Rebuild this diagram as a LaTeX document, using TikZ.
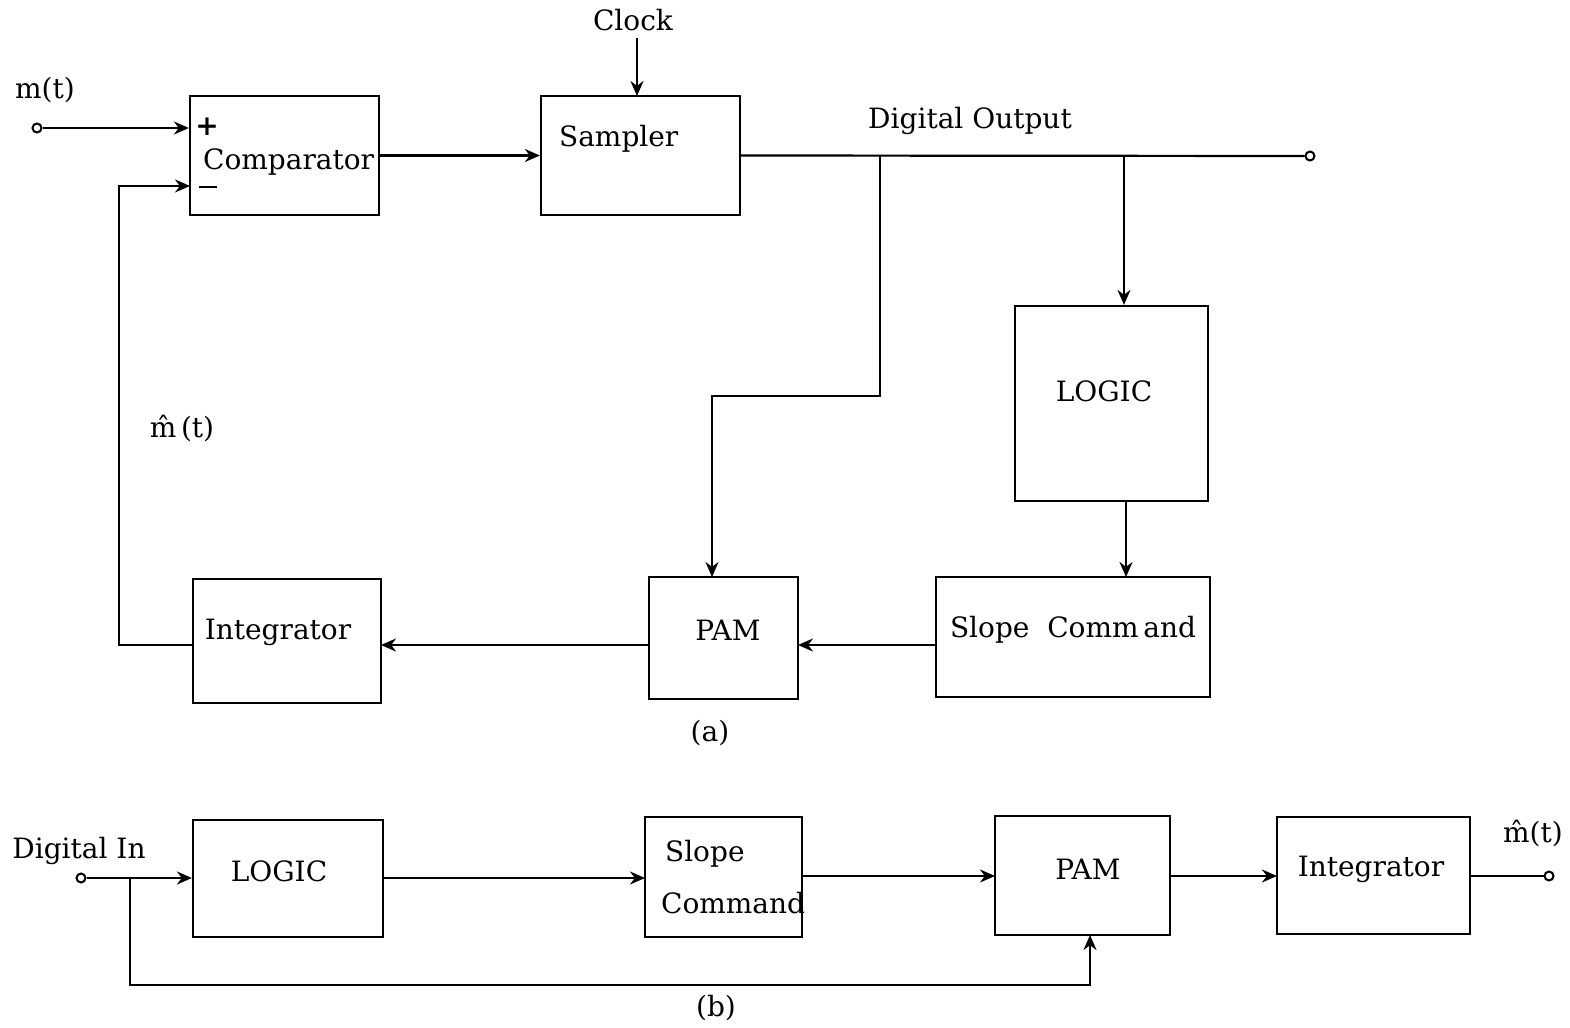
\documentclass[tikz,border=0pt]{standalone}
\usepackage{fontspec}
\setmainfont{DejaVu Serif}
\usetikzlibrary{arrows.meta,fit}
\begin{document}
\begin{tikzpicture}[x=0.5pt,y=-0.5pt, line width=1.1pt,
  box/.style={draw, line width=1.1pt, inner sep=0pt},
  lbl/.style={font=\fontsize{14}{17}\selectfont, inner sep=0pt},
  arr/.style={-{Stealth[length=7.5pt,width=6.5pt]}},
  term/.style={circle, draw, line width=1pt, minimum size=4.5pt, inner sep=0pt, fill=white}]
\useasboundingbox (0,0) rectangle (1570,1028);

% ---------- (a) ----------
\node[box, fit={(190,96) (379,215)}] (cmp) {};
\node[box, fit={(541,96) (740,215)}] (smp) {};
\node[box, fit={(1015,306) (1208,501)}] (logA) {};
\node[box, fit={(936,577) (1210,697)}] (slA) {};
\node[box, fit={(649,577) (798,699)}] (pamA) {};
\node[box, fit={(193,579) (381,703)}] (intA) {};

\node[lbl, anchor=base west] (cmptxt) at (202,169) {Comparator};
\node[lbl] (plus) at (207,127) {\textbf{+}};
\node[inner sep=0pt, fill=black, minimum width=9pt, minimum height=1.3pt] (minus) at (208,187) {};
\node[lbl, anchor=base west] (smptxt) at (558,146) {Sampler};
\node[lbl] (clk) at (633,20) {Clock};
\node[lbl] (dout) at (970,121) {Digital Output};
\node[lbl] (logAtxt) at (1104,391) {LOGIC};
\node[lbl] (slAtxt) at (1073,630) {Slope\ \ Comm\,and};
\node[lbl] (pamAtxt) at (728,630) {PAM};
\node[lbl] (intAtxt) at (278,632) {Integrator};
\node[lbl] (mt) at (45,90) {m(t)};
\node[lbl] (mhatA) at (182,428) {\^{m}\,(t)};
\node[lbl] (capa) at (710,733) {(a)};

\node[term] (in1) at (37,128) {};
\node[term] (out1) at (1310,156) {};
\coordinate (cmpminus) at (190,186);
\coordinate (fb) at (119,186);
\coordinate (clkend) at (637,96);
\coordinate (clkstart) at (637,38);
\coordinate (j1) at (880,156);
\coordinate (j2) at (1124,156);
\coordinate (bend) at (712,396);
\coordinate (pamtop) at (712,577);
\coordinate (logbot) at (1126,501);
\coordinate (sltop) at (1126,577);
\coordinate (slw) at (936,645);
\coordinate (pame) at (798,645);
\coordinate (pamw) at (649,645);
\coordinate (inte) at (381,645);
\coordinate (intw) at (193,645);

\draw[arr] (in1) -- (in1 -| cmp.west);
\draw[arr] (intw) -| (fb) -- (cmpminus);
\draw[arr] (cmp.east) -- (smp.west);
\draw[arr] (clkstart) -- (clkend);
\draw (smp.east) -- (out1);
\draw[arr] (j1) |- (bend) -- (pamtop);
\draw[arr] (j2) -- (j2 |- logA.north);
\draw[arr] (logbot) -- (sltop);
\draw[arr] (slw) -- (pame);
\draw[arr] (pamw) -- (inte);

% ---------- (b) ----------
\node[box, fit={(193,820) (383,937)}] (logB) {};
\node[box, fit={(645,817) (802,937)}] (slB) {};
\node[box, fit={(995,816) (1170,935)}] (pamB) {};
\node[box, fit={(1277,817) (1470,934)}] (intB) {};

\node[lbl] (din) at (79,851) {Digital In};
\node[lbl] (logBtxt) at (279,871) {LOGIC};
\node[lbl, anchor=base west] (slBtxt1) at (664,861) {Slope};
\node[lbl, anchor=base west] (slBtxt2) at (660,913) {Command};
\node[lbl] (pamBtxt) at (1088,869) {PAM};
\node[lbl] (intBtxt) at (1371,869) {Integrator};
\node[lbl] (mhatB) at (1533,833) {\^{m}(t)};
\node[lbl] (capb) at (716,1008) {(b)};

\node[term] (in2) at (81,878) {};
\node[term] (out2) at (1549,876) {};
\coordinate (j3) at (130,878);
\coordinate (lowl) at (130,985);
\coordinate (pambot) at (1090,935);
\coordinate (logBe) at (383,878);
\coordinate (slBw) at (645,878);
\coordinate (slBe) at (802,876);
\coordinate (pamBw) at (995,876);
\coordinate (pamBe) at (1170,876);
\coordinate (intBw) at (1277,876);
\coordinate (intBe) at (1470,876);

\draw[arr] (in2) -- (in2 -| logB.west);
\draw[arr] (j3) -- (lowl) -| (pambot);
\draw[arr] (logBe) -- (slBw);
\draw[arr] (slBe) -- (pamBw);
\draw[arr] (pamBe) -- (intBw);
\draw (intBe) -- (out2);
\end{tikzpicture}
\end{document}
